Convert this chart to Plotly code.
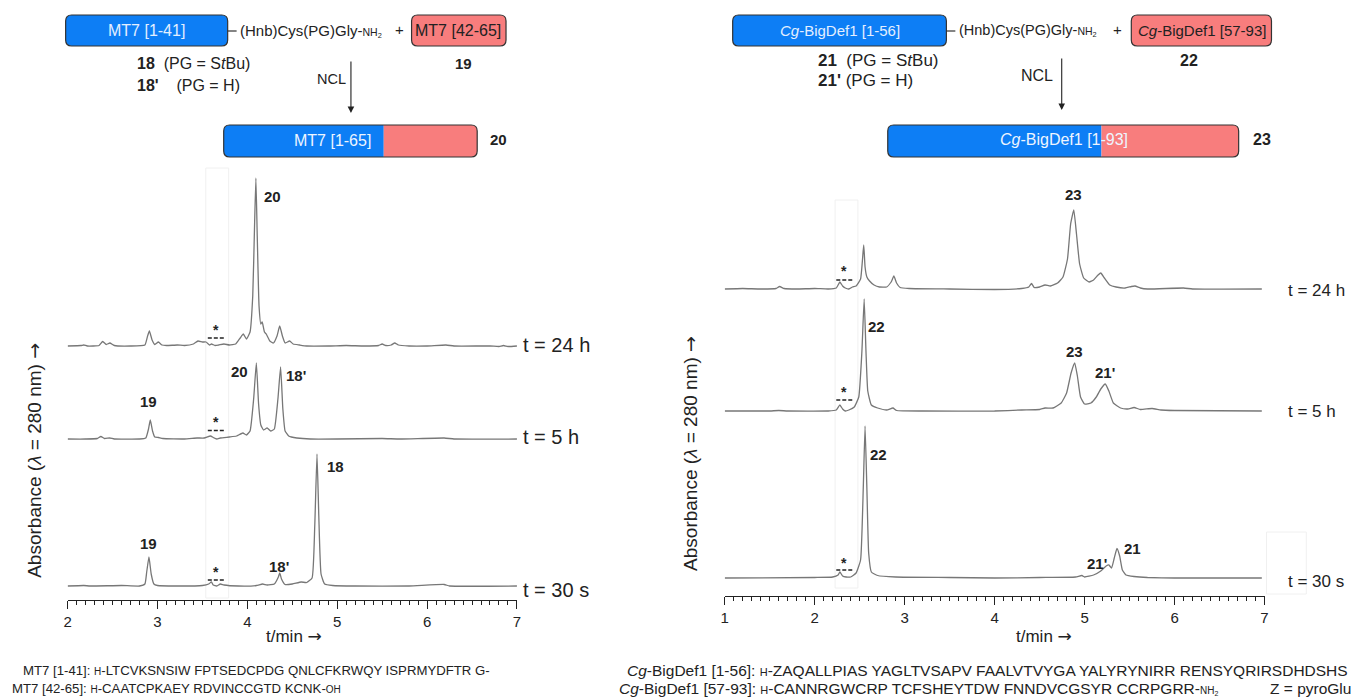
import plotly.graph_objects as go

# ---------------- DATA ----------------
# MT7 ligation, HPLC traces: retention time (min) and absorbance (arbitrary units)
mt7_t_24h = [2.00, 2.15, 2.18, 2.22, 2.35, 2.39, 2.43, 2.47, 2.52, 2.70, 2.86, 2.89, 2.91, 2.94, 2.97, 3.01, 3.05,
             3.10, 3.22, 3.30, 3.40, 3.45, 3.50, 3.54, 3.58, 3.60, 3.64, 3.68, 3.74, 3.80, 3.87, 3.92, 3.955, 3.99,
             4.03, 4.06, 4.08, 4.095, 4.11, 4.13, 4.15, 4.165, 4.19, 4.21, 4.25, 4.29, 4.33, 4.36, 4.39, 4.42, 4.47,
             4.51, 4.58, 4.66, 4.90, 5.10, 5.30, 5.46, 5.50, 5.54, 5.60, 5.64, 5.68, 5.80, 6.00, 6.21, 6.30, 6.70,
             6.80, 6.85, 6.90, 7.00]
mt7_a_24h = [0, 0.5, 1, 0, 0.5, 4.5, 1.5, 3, 0.5, 0, 1, 10, 15, 6, 1.5, 4, 1,
             0.5, 1, 0.5, 2, 5, 4, 4, 1, 2, 0.5, 1, 2, 1, 2, 8, 12, 7,
             14, 50, 120, 168, 110, 40, 22, 24, 14, 12, 5, 3, 10, 20, 10, 3, 5,
             2, 1, 0, 0, 0.5, 0, 0.5, 2, 0.5, 1, 3, 1, 0, 0, 1, 0, 0,
             -0.5, 0.5, -0.5, 0]

mt7_t_5h = [2.00, 2.20, 2.33, 2.37, 2.41, 2.47, 2.52, 2.80, 2.87, 2.90, 2.92, 2.945, 2.97, 3.01, 3.06, 3.30, 3.44,
            3.52, 3.59, 3.62, 3.66, 3.70, 3.80, 3.88, 3.95, 3.99, 4.03, 4.07, 4.10, 4.125, 4.15, 4.18, 4.22, 4.26,
            4.30, 4.34, 4.37, 4.395, 4.42, 4.46, 4.49, 4.55, 4.70, 5.00, 5.50, 5.70, 6.19, 6.30, 7.00]
mt7_a_5h = [0, 0, 0.5, 2.5, 0.5, 1, 0, 0, 1, 10, 19, 8, 2, 1.5, 0.5, 0, 1,
            1, 3, 1.5, 0, 1, 2, 3, 6, 4, 8, 40, 76, 35, 14, 9, 11, 8,
            10, 40, 72, 30, 8, 3, 2, 1, 0, 0, 0.5, 0, 1, 0, 0]

mt7_t_30s = [2.00, 2.18, 2.25, 2.60, 2.80, 2.86, 2.88, 2.905, 2.93, 2.96, 3.00, 3.20, 3.50, 3.57, 3.60, 3.62, 3.66,
             3.70, 3.74, 3.90, 4.10, 4.17, 4.22, 4.30, 4.345, 4.36, 4.38, 4.42, 4.50, 4.60, 4.66, 4.72, 4.75, 4.775,
             4.795, 4.82, 4.86, 4.95, 5.20, 5.80, 6.19, 6.25, 7.00]
mt7_a_30s = [0, 0.5, 0, 0.5, 0, 2, 14, 29, 12, 2, 0.5, 0, 0.5, 2, 4, 1, 0,
             2, 1, 0, 0.5, 2, 1, 2, 9, 13, 7, 1.5, 2, 4, 3.5, 8, 60, 132,
             70, 12, 2, 0.5, 0, 0, 1.5, 0, 0]

# Cg-BigDef1 ligation
big_t_24h = [1.00, 1.20, 1.40, 1.57, 1.61, 1.66, 1.80, 2.00, 2.15, 2.24, 2.28, 2.31, 2.34, 2.38, 2.42, 2.46, 2.51,
             2.545, 2.56, 2.58, 2.61, 2.66, 2.72, 2.80, 2.85, 2.88, 2.91, 2.95, 3.05, 3.50, 4.00, 4.30, 4.38, 4.41,
             4.44, 4.50, 4.56, 4.62, 4.70, 4.76, 4.81, 4.845, 4.88, 4.91, 4.945, 4.99, 5.05, 5.10, 5.15, 5.18, 5.22,
             5.28, 5.35, 5.45, 5.52, 5.56, 5.62, 5.70, 6.10, 6.20, 6.97]
big_a_24h = [0, 0.5, 0, 0.5, 2.5, 0.5, 0, 0.5, 0, 1, 7, 3, 1, 0, 2, 3, 10,
             44, 22, 12, 8, 4, 2, 2, 7, 13, 6, 1.5, 0.5, 0, -0.5, 0.5, 2, 5.5,
             1.5, 2, 4, 3, 6, 12, 30, 65, 79, 55, 25, 11, 7, 9, 14, 16, 11,
             4, 2, 1, 2.5, 3, 1, 0, 1, 0, 0]

big_t_5h = [1.00, 1.50, 1.60, 1.70, 2.15, 2.24, 2.28, 2.31, 2.34, 2.38, 2.44, 2.49, 2.525, 2.55, 2.57, 2.59, 2.63,
            2.70, 2.80, 2.87, 2.91, 3.20, 4.00, 4.30, 4.50, 4.56, 4.65, 4.74, 4.80, 4.85, 4.89, 4.92, 4.955, 5.00,
            5.07, 5.13, 5.18, 5.23, 5.27, 5.32, 5.40, 5.48, 5.55, 5.62, 5.75, 5.85, 6.00, 6.97]
big_a_5h = [0, 0, 0.5, 0, 0, 1, 6, 2, 0, 1, 4, 14, 60, 112, 60, 20, 6,
            3, 1, 3, 0.5, 0, 0, 1, 1.5, 3, 3, 8, 18, 38, 48, 35, 14, 7,
            8, 14, 22, 27, 20, 8, 3, 2, 3.5, 1.5, 2.5, 1, 0.5, 0]

big_t_30s = [1.00, 2.00, 2.20, 2.26, 2.28, 2.31, 2.35, 2.40, 2.46, 2.51, 2.54, 2.56, 2.58, 2.60, 2.63, 2.70, 2.90,
             3.50, 4.00, 4.50, 4.90, 4.97, 5.00, 5.10, 5.18, 5.24, 5.27, 5.30, 5.33, 5.36, 5.39, 5.42, 5.46, 5.55,
             5.70, 6.00, 6.97]
big_a_30s = [0, 0.5, 1, 3, 6, 2, 1, 1, 5, 18, 90, 152, 90, 25, 6, 2.5, 1,
             0.5, 0, 0.5, 1, 2.5, 1, 3, 7, 12, 13, 10, 20, 29.5, 22, 8, 3, 1.5,
             0.5, 0, 0]

time_labels = ["t = 24 h", "t = 5 h", "t = 30 s"]
left_ticks = [2, 3, 4, 5, 6, 7]
right_ticks = [1, 2, 3, 4, 5, 6, 7]

# ---------------- LAYOUT CONSTANTS ----------------
W, H = 1355, 700
FONT = "Arial, Liberation Sans, sans-serif"
TRACE_COLOR = "#777777"
BLUE = "#0d7ef5"
RED = "#f87d7d"
L_AXIS_Y, R_AXIS_Y, TOP_Y = 600, 596, 165
L_OFF = [254, 161, 14]      # baseline offsets (pixels above axis) 24h, 5h, 30s
R_OFF = [307, 185, 18]
ARROW = "<span style='font-family:DejaVu Sans'>→</span>"


def X(x):
    return x / W


def Y(y):
    return 1 - y / H


fig = go.Figure()

left_series = [(mt7_t_24h, mt7_a_24h), (mt7_t_5h, mt7_a_5h), (mt7_t_30s, mt7_a_30s)]
right_series = [(big_t_24h, big_a_24h), (big_t_5h, big_a_5h), (big_t_30s, big_a_30s)]

for (t, a), off in zip(left_series, L_OFF):
    fig.add_trace(go.Scatter(x=t, y=[v + off for v in a], mode="lines", xaxis="x", yaxis="y",
                             line=dict(color=TRACE_COLOR, width=1.3, shape="spline", smoothing=0.4),
                             showlegend=False, hoverinfo="skip"))
for (t, a), off in zip(right_series, R_OFF):
    fig.add_trace(go.Scatter(x=t, y=[v + off for v in a], mode="lines", xaxis="x2", yaxis="y2",
                             line=dict(color=TRACE_COLOR, width=1.3, shape="spline", smoothing=0.4),
                             showlegend=False, hoverinfo="skip"))

axis_common = dict(showline=True, linecolor="#222", linewidth=1.2, ticks="outside", ticklen=8,
                   tickwidth=1.2, tickcolor="#222", showgrid=False, zeroline=False,
                   tickfont=dict(family=FONT, size=15, color="#222"),
                   minor=dict(dtick=0.1, ticks="outside", ticklen=4, tickcolor="#222", tickwidth=1))

fig.update_layout(
    width=W, height=H, margin=dict(l=0, r=0, t=0, b=0),
    paper_bgcolor="white", plot_bgcolor="white",
    xaxis=dict(domain=[X(64), X(516)], range=[2, 7], tickvals=left_ticks, anchor="y", **axis_common),
    yaxis=dict(domain=[Y(L_AXIS_Y), Y(TOP_Y)], range=[0, L_AXIS_Y - TOP_Y], visible=False),
    xaxis2=dict(domain=[X(725), X(1268)], range=[1, 7], tickvals=right_ticks, anchor="y2", **axis_common),
    yaxis2=dict(domain=[Y(R_AXIS_Y), Y(TOP_Y)], range=[0, R_AXIS_Y - TOP_Y], visible=False),
    font=dict(family=FONT, color="#222"),
)

ann = []
shapes = []


def txt(x, y, text, size=14, xanchor="center", color="#222", ref=("paper", "paper"), **kw):
    if ref == ("paper", "paper"):
        x, y = X(x), Y(y)
    ann.append(dict(x=x, y=y, xref=ref[0], yref=ref[1], text=text, showarrow=False,
                    xanchor=xanchor, yanchor="middle", font=dict(family=FONT, size=size, color=color), **kw))


def rr_path(x0, y0, x1, y1, r=(6, 6, 6, 6)):
    # r: top-left, top-right, bottom-right, bottom-left (pixel)
    tl, tr, br, bl = r

    def p(x, y):
        return f"{X(x):.6f},{Y(y):.6f}"
    s = f"M {p(x0 + tl, y0)} L {p(x1 - tr, y0)} Q {p(x1, y0)} {p(x1, y0 + tr)} "
    s += f"L {p(x1, y1 - br)} Q {p(x1, y1)} {p(x1 - br, y1)} "
    s += f"L {p(x0 + bl, y1)} Q {p(x0, y1)} {p(x0, y1 - bl)} "
    s += f"L {p(x0, y0 + tl)} Q {p(x0, y0)} {p(x0 + tl, y0)} Z"
    return s


def box(x0, y0, x1, y1, fill):
    shapes.append(dict(type="path", xref="paper", yref="paper", path=rr_path(x0, y0, x1, y1),
                       fillcolor=fill, line=dict(color="#333", width=1.2)))


def split_box(x0, y0, xs, x1, y1):
    shapes.append(dict(type="path", xref="paper", yref="paper", path=rr_path(x0, y0, xs, y1, (6, 0, 0, 6)),
                       fillcolor=BLUE, line=dict(width=0)))
    shapes.append(dict(type="path", xref="paper", yref="paper", path=rr_path(xs, y0, x1, y1, (0, 6, 6, 0)),
                       fillcolor=RED, line=dict(width=0)))
    shapes.append(dict(type="path", xref="paper", yref="paper", path=rr_path(x0, y0, x1, y1),
                       fillcolor="rgba(0,0,0,0)", line=dict(color="#333", width=1.2)))


def pline(x0, y0, x1, y1, width=1.2, color="#333"):
    shapes.append(dict(type="line", xref="paper", yref="paper", x0=X(x0), y0=Y(y0), x1=X(x1), y1=Y(y1),
                       line=dict(color=color, width=width)))


def arrow(x, y0, y1):
    ann.append(dict(x=X(x), y=Y(y1), xref="paper", yref="paper", ax=0, ay=-(y1 - y0), text="",
                    showarrow=True, arrowhead=2, arrowsize=1.2, arrowwidth=1.1, arrowcolor="#222"))


def nh2(size):
    return f"<span style='font-size:{size}px'>NH<sub>2</sub></span>"


# faint boxes (artefacts in the source figure)
for (x0, y0, x1, y1) in [(203, 168, 226, 598), (836, 200, 859, 588), (1270, 532, 1310, 594)]:
    shapes.append(dict(type="rect", xref="paper", yref="paper", x0=X(x0), y0=Y(y0), x1=X(x1), y1=Y(y1),
                       line=dict(color="#f0f0f0", width=1), fillcolor="rgba(0,0,0,0)", layer="below"))

# ---------- left scheme ----------
box(62, 15, 225, 46, BLUE)
txt(143, 30.5, "MT7 [1-41]", 16, color="#e4efff")
pline(225, 31, 234, 31)
txt(235, 31, "(Hnb)Cys(PG)Gly-" + nh2(10.5), 15, xanchor="left")
txt(398, 30, "+", 15)
box(410, 15, 505, 46, RED)
txt(457, 30.5, "MT7 [42-65]", 16)
txt(132, 64, "<b>18</b>  (PG = S<i>t</i>Bu)", 16, xanchor="left")
txt(132, 85, "<b>18'</b>    (PG = H)", 16, xanchor="left")
txt(462, 64, "<b>19</b>", 15)
txt(346, 79, "NCL", 14.5, xanchor="right")
arrow(349, 60, 113)
split_box(221, 125, 382, 476, 157)
txt(330, 141, "MT7 [1-65]", 16, color="#eef5ff")
txt(497, 140, "<b>20</b>", 15)

# ---------- right scheme ----------
box(733, 15, 948, 46, BLUE)
txt(841, 30.5, "<i>Cg</i>-BigDef1 [1-56]", 15, color="#e4efff")
pline(948, 31, 957, 31)
txt(959, 31, "(Hnb)Cys(PG)Gly-" + nh2(10.5), 14.5, xanchor="left")
txt(1120, 30, "+", 15)
box(1134, 15, 1275, 46, RED)
txt(1205, 30.5, "<i>Cg</i>-BigDef1 [57-93]", 15)
txt(817, 60, "<b>21</b>  (PG = S<i>t</i>Bu)", 17, xanchor="left")
txt(817, 80, "<b>21'</b> (PG = H)", 17, xanchor="left")
txt(1192, 60, "<b>22</b>", 16)
txt(1057, 76, "NCL", 16, xanchor="right")
arrow(1064, 57, 110)
split_box(889, 125, 1104, 1242, 157)
txt(1066, 140, "<i>Cg</i>-BigDef1 [1-93]", 16, color="#eef5ff")
txt(1265, 140, "<b>23</b>", 16)

# ---------- time labels ----------
for lab, yy in zip(time_labels, [345, 437, 590]):
    txt(520, yy, lab, 20, xanchor="left")
for lab, yy in zip(time_labels, [290, 411, 581]):
    txt(1290, yy, lab, 17, xanchor="left")

# ---------- peak labels (data coords) ----------
L = ("x", "y")
R = ("x2", "y2")
for (t, yv, s) in [(4.28, 404, "20"), (3.91, 229, "20"), (4.54, 225, "18'"), (2.90, 199, "19"),
                   (2.90, 57, "19"), (4.35, 34, "18'"), (4.98, 134, "18")]:
    txt(t, yv, f"<b>{s}</b>", 15, ref=L)
for (t, yv, s) in [(4.88, 402, "23"), (2.69, 270, "22"), (4.89, 245, "23"), (5.23, 224, "21'"),
                   (2.71, 142, "22"), (5.14, 33, "21'"), (5.53, 48, "21")]:
    txt(t, yv, f"<b>{s}</b>", 15, ref=R)

# asterisks + dashed markers
for (ys, yd) in [(270, 262), (178, 169.5), (28, 20)]:
    txt(3.655, ys, "<b>*</b>", 14, ref=L)
    shapes.append(dict(type="line", xref="x", yref="y", x0=3.56, x1=3.75, y0=yd, y1=yd,
                       line=dict(color="#222", width=1.6, dash="4px,2px")))
for (ys, yd) in [(325, 316), (204, 196), (33, 26)]:
    txt(2.33, ys, "<b>*</b>", 14, ref=R)
    shapes.append(dict(type="line", xref="x2", yref="y2", x0=2.24, x1=2.42, y0=yd, y1=yd,
                       line=dict(color="#222", width=1.6, dash="4px,2px")))

# axis titles
txt(292, 636, "t/min " + ARROW, 17)
txt(1046, 636, "t/min " + ARROW, 17)
txt(30, 460, "Absorbance (<i>λ</i> = 280 nm) " + ARROW, 19, textangle=-90)
txt(690, 453, "Absorbance (<i>λ</i> = 280 nm) " + ARROW, 19, textangle=-90)

# sequences
HS = "<span style='font-size:10px'>H</span>-"
HSr = "<span style='font-size:11px'>H</span>-"
txt(17, 670, "MT7 [1-41]: " + HS + "LTCVKSNSIW FPTSEDCPDG QNLCFKRWQY ISPRMYDFTR G-", 13.2, xanchor="left")
txt(6, 688, "MT7 [42-65]: " + HS + "CAATCPKAEY RDVINCCGTD KCNK-<span style='font-size:10px'>OH</span>", 13.2,
    xanchor="left")
txt(625, 670, "<i>Cg</i>-BigDef1 [1-56]: " + HSr + "ZAQALLPIAS YAGLTVSAPV FAALVTVYGA YALYRYNIRR RENSYQRIRSDHDSHS",
    15.5, xanchor="left")
txt(617, 688, "<i>Cg</i>-BigDef1 [57-93]: " + HSr + "CANNRGWCRP TCFSHEYTDW FNNDVCGSYR CCRPGRR-" + nh2(10), 15.5,
    xanchor="left")
txt(1272, 688, "Z = pyroGlu", 15.5, xanchor="left")

fig.update_layout(annotations=ann, shapes=shapes)
fig.write_html("out.html", config={"displayModeBar": False},
               post_script="document.body.style.margin='0px';document.body.style.overflow='hidden';")
